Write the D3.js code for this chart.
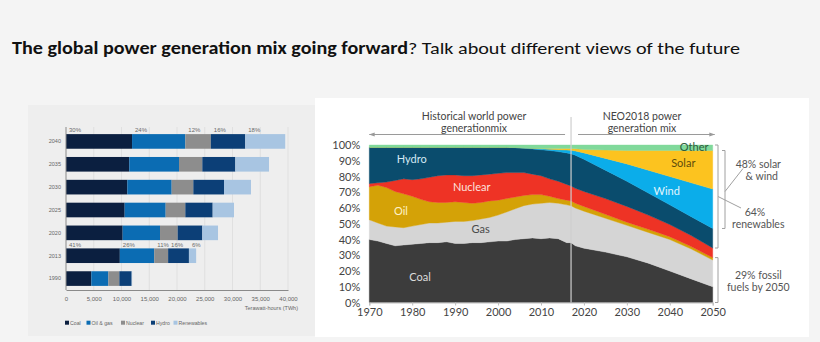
<!DOCTYPE html>
<html><head><meta charset="utf-8">
<script src="https://cdn.jsdelivr.net/npm/d3@7"></script>
<style>
html,body{margin:0;padding:0;background:#f4f4f4;}
svg{display:block;}
</style></head><body>
<svg id="c" width="820" height="342"></svg>
<script>
// ---------- Left chart data (TWh) ----------
const barCategories = ["2040","2035","2030","2025","2020","2013","1990"];
const barSeriesNames = ["Coal","Oil & gas","Nuclear","Hydro","Renewables"];
const barCoal       = [11900, 11400, 11050, 10570, 10210, 9700, 4560];
const barOilGas     = [ 9600,  8960,  7990,  7390,  6730, 6200, 3070];
const barNuclear    = [ 4600,  4200,  3900,  3540,  3180, 2500, 1980];
const barHydro      = [ 6200,  5950,  5530,  4930,  4440, 3750, 2220];
const barRenewables = [ 7200,  6070,  4860,  3840,  2830, 1300,   80];
const barShare2040  = ["30%","24%","12%","16%","18%"];
const barShare2013  = ["41%","26%","11%","16%","6%"];
const barTicks = [0,5000,10000,15000,20000,25000,30000,35000,40000];

// ---------- Right chart data (% share of generation) ----------
const areaYears = [1970,1972,1974,1976,1978,1980,1982,1984,1986,1988,1990,1992,1994,1996,1998,2000,2002,2004,2006,2008,2010,2012,2014,2016,2017,2018,2020,2025,2030,2035,2040,2045,2050];
const areaCoal    = [40,39,37.5,36,36.5,37,37.5,38,38,38.5,37.5,37.5,38,38,38.5,39,39,40,40.5,41,40.5,41,40.5,38,38,36,34.5,32,29,25,20,15,10];
const areaGas     = [12.5,11.5,11,12,11,11.5,12,12.5,12.5,12.5,14,14,14,15,15.5,16.5,18.5,19.5,21,21.5,22.5,22.5,22.5,24,23.5,24,23.5,21.5,20,19.5,20,19,17];
const areaOil     = [21,24,24.5,22.5,21.5,19,16,13.5,13,12.5,12.5,12,11,10.5,10.5,9.5,8.5,7.5,6.5,6,5.5,4,3,3,3,3,3,2.5,2,2,1.8,1.5,1.5];
const areaNuclear = [2,1.5,3.5,7,9.5,10.5,13,15.5,17,17.5,17,17,17.5,17.5,17,17,16.5,15.5,14.5,13,12,11,11,10,9.5,9.5,9.5,10,10,9,7.7,7,6.1];
const areaHydro   = [23,22.5,22,21,20,20.5,20,19,18,17.5,17.5,18,18,17.5,17,16.5,16,15.8,15.5,16,16.5,18,18.8,20,20.5,21,20.5,18,16,14,12.5,12,12.4];
const areaWind    = [0,0,0,0,0,0,0,0,0,0,0,0,0,0,0,0,0,0.1,0.2,0.4,0.6,0.8,1.2,1.8,2.1,2.7,4,7.5,11,14.5,18,21.5,25];
const areaSolar   = [0,0,0,0,0,0,0,0,0,0,0,0,0,0,0,0,0,0,0,0.1,0.2,0.4,0.7,1.0,1.2,1.4,2.2,5.3,8.5,12.5,16.5,20.5,24.5];
const areaOther   = [1.5,1.5,1.5,1.5,1.5,1.5,1.5,1.5,1.5,1.5,1.5,1.5,1.5,1.5,1.5,1.5,1.5,1.6,1.8,2.0,2.2,2.3,2.3,2.2,2.2,2.4,2.8,3.2,3.5,3.5,3.5,3.5,3.5];
const areaSeriesNames = ["Coal","Gas","Oil","Nuclear","Hydro","Wind","Solar","Other"];
const areaYTicks = [0,10,20,30,40,50,60,70,80,90,100];
const areaXTicks = [1970,1980,1990,2000,2010,2020,2030,2040,2050];
const splitYear = 2017;

// ---------- Drawing ----------
const svg = d3.select("#c");
svg.append("rect").attr("width",820).attr("height",342).attr("fill","#f4f4f4");

// Title
const title = svg.append("text").attr("x",12).attr("y",54)
  .style("font-family","Carlito, Calibri, 'Open Sans', sans-serif").style("font-size","17px").attr("fill","#111");
title.append("tspan").attr("font-weight","bold").text("The global power generation mix going forward");
title.append("tspan").attr("font-weight","normal").text("? Talk about different views of the future");
{
  const w = title.node().getComputedTextLength();
  title.attr("textLength", 728).attr("lengthAdjust","spacingAndGlyphs");
}

// Panels
svg.append("rect").attr("x",28).attr("y",105).attr("width",287).attr("height",231).attr("fill","#eeeeee");
svg.append("rect").attr("x",315).attr("y",98).attr("width",494).attr("height",239).attr("fill","#ffffff");

// ===== Left chart =====
const L = svg.append("g").style("font-family","'Liberation Sans', Arial, sans-serif");
const xL = d3.scaleLinear().domain([0,40000]).range([66,288]);
const yL = d3.scaleBand().domain(barCategories).range([130,290]).paddingInner(0.36).paddingOuter(0.18);
const barColors = d3.scaleOrdinal().domain(barSeriesNames).range(["#0b1f40","#0b6cb3","#8d8d8d","#0c3f77","#a8c5e2"]);

L.append("g").selectAll("line").data(barTicks.slice(1)).join("line")
  .attr("x1",d=>xL(d)).attr("x2",d=>xL(d)).attr("y1",127).attr("y2",290)
  .attr("stroke","#dcdcdc").attr("stroke-width",0.8);

const barRows = barCategories.map((c,i)=>({cat:c,"Coal":barCoal[i],"Oil & gas":barOilGas[i],"Nuclear":barNuclear[i],"Hydro":barHydro[i],"Renewables":barRenewables[i]}));
const barStack = d3.stack().keys(barSeriesNames)(barRows);
L.append("g").selectAll("g").data(barStack).join("g").attr("fill",d=>barColors(d.key))
  .selectAll("rect").data(d=>d).join("rect")
  .attr("x",d=>xL(d[0])).attr("width",d=>xL(d[1])-xL(d[0]))
  .attr("y",d=>yL(d.data.cat)).attr("height",yL.bandwidth());

// share labels
function shareLabels(cat, labels){
  const idx = barCategories.indexOf(cat);
  L.append("g").selectAll("text").data(barStack).join("text")
    .attr("x",(d)=>xL(d[idx][0])+3).attr("y",yL(cat)-1.8)
    .style("font-size","6px").attr("fill","#6a6a6a")
    .text((d,i)=>labels[i]);
}
shareLabels("2040", barShare2040);
shareLabels("2013", barShare2013);

// category labels
L.append("g").selectAll("text").data(barCategories).join("text")
  .attr("x",61).attr("y",d=>yL(d)+yL.bandwidth()/2).attr("dy","0.35em")
  .attr("text-anchor","end").style("font-size","5.5px").attr("fill","#666").text(d=>d);

// axes
const axL = L.append("g").attr("transform","translate(0,290)")
  .call(d3.axisBottom(xL).tickValues(barTicks).tickSize(0).tickPadding(7).tickFormat(d3.format(",")));
axL.select(".domain").attr("stroke","#8a8a8a");
axL.selectAll("text").style("font-size","6px").attr("fill","#666").style("font-family","'Liberation Sans', Arial, sans-serif");
L.append("line").attr("x1",66).attr("x2",66).attr("y1",127).attr("y2",290).attr("stroke","#8a8a8a").attr("stroke-width",1);
L.append("text").attr("x",298).attr("y",310).attr("text-anchor","end")
  .style("font-size","5.5px").attr("fill","#666").text("Terawatt-hours (TWh)");

// legend
const legX = [65, 86.5, 121, 151, 173.5];
const leg = L.append("g").selectAll("g").data(barSeriesNames).join("g")
  .attr("transform",(d,i)=>`translate(${legX[i]},323)`);
leg.append("rect").attr("x",0).attr("y",-2.3).attr("width",4).attr("height",4).attr("fill",d=>barColors(d));
leg.append("text").attr("x",5).attr("y",0).attr("dy","0.35em").style("font-size","5.2px").attr("fill","#666").text(d=>d);

// ===== Right chart =====
const R = svg.append("g").style("font-family","Lato, 'Open Sans', sans-serif");
const xR = d3.scaleLinear().domain([1970,2050]).range([369.3,712.7]);
const yR = d3.scaleLinear().domain([0,100]).range([302.5,145]);
const areaColors = d3.scaleOrdinal().domain(areaSeriesNames)
  .range(["#3c3c3c","#d5d5d5","#d4a207","#ee3325","#0a4c6d","#0badea","#fcc31f","#80d99b"]);

const areaRows = areaYears.map((y,i)=>({year:y,Coal:areaCoal[i],Gas:areaGas[i],Oil:areaOil[i],Nuclear:areaNuclear[i],Hydro:areaHydro[i],Wind:areaWind[i],Solar:areaSolar[i],Other:areaOther[i]}));
const areaStack = d3.stack().keys(areaSeriesNames)(areaRows);
const areaGen = d3.area().x(d=>xR(d.data.year)).y0(d=>yR(d[0])).y1(d=>yR(d[1]));
R.append("g").selectAll("path").data(areaStack).join("path")
  .attr("d",areaGen).attr("fill",d=>areaColors(d.key)).attr("stroke",d=>areaColors(d.key)).attr("stroke-width",0.4);

// y axis
const ayR = R.append("g").attr("transform","translate(369.3,0)")
  .call(d3.axisLeft(yR).tickValues(areaYTicks).tickSize(0).tickPadding(9).tickFormat(d=>d+"%"));
ayR.select(".domain").remove();
ayR.selectAll("text").style("font-size","11px").attr("fill","#444").style("font-family","Lato, 'Open Sans', sans-serif");

// x axis
const axR = R.append("g").attr("transform","translate(0,302.5)")
  .call(d3.axisBottom(xR).tickValues(areaXTicks).tickSize(3).tickPadding(3).tickFormat(d3.format("d")));
axR.select(".domain").attr("stroke","#bdbdbd");
axR.selectAll("line").attr("stroke","#bdbdbd");
axR.selectAll("text").style("font-size","11px").attr("fill","#444").style("font-family","Lato, 'Open Sans', sans-serif");

// split line
R.append("line").attr("x1",xR(splitYear)).attr("x2",xR(splitYear)).attr("y1",117).attr("y2",302.5)
  .attr("stroke","#cfcfcf").attr("stroke-width",1.2);

// header texts and arrows
const defs = svg.append("defs");
defs.append("marker").attr("id","ah").attr("viewBox","0 0 10 10").attr("refX",9).attr("refY",5)
  .attr("markerWidth",6).attr("markerHeight",6).attr("orient","auto-start-reverse")
  .append("path").attr("d","M0,1.5 L10,5 L0,8.5 Z").attr("fill","#9a9a9a");
R.append("line").attr("x1",xR(splitYear)-6).attr("x2",xR(1970)).attr("y1",134.5).attr("y2",134.5)
  .attr("stroke","#9a9a9a").attr("stroke-width",1).attr("marker-end","url(#ah)");
R.append("line").attr("x1",xR(splitYear)+7).attr("x2",xR(2050)+2).attr("y1",134.5).attr("y2",134.5)
  .attr("stroke","#9a9a9a").attr("stroke-width",1).attr("marker-end","url(#ah)");

const hdr = [
  {x:474, lines:["Historical world power","generationmix"]},
  {x:642, lines:["NEO2018 power","generation mix"]}
];
hdr.forEach(h=>{
  h.lines.forEach((t,i)=>{
    R.append("text").attr("x",h.x).attr("y",119.5+i*12.3).attr("text-anchor","middle")
      .style("font-size","10.5px").attr("fill","#444").text(t);
  });
});

// in-area labels
const areaLabels = [
  {t:"Hydro",x:411.7,y:159.5,c:"#d3e9f4",a:"middle"},
  {t:"Nuclear",x:471.7,y:187.5,c:"#fde2df",a:"middle"},
  {t:"Oil",x:401,y:211,c:"#fff2c8",a:"middle"},
  {t:"Gas",x:480.7,y:229.5,c:"#4a4a4a",a:"middle"},
  {t:"Coal",x:420,y:277.5,c:"#dcdcdc",a:"middle"},
  {t:"Wind",x:666.7,y:191,c:"#e2f5fd",a:"middle"},
  {t:"Solar",x:683.3,y:163.5,c:"#5e4c0c",a:"middle"},
  {t:"Other",x:708.5,y:147,c:"#2f5c3b",a:"end"}
];
R.append("g").selectAll("text").data(areaLabels).join("text")
  .attr("x",d=>d.x).attr("y",d=>d.y).attr("dy","0.35em").attr("text-anchor",d=>d.a)
  .style("font-size","11px").attr("fill",d=>d.c).text(d=>d.t);

// brackets
const bc = "#a0a0a0";
function bracket(x, v0, v1){
  const y0 = yR(v0), y1 = yR(v1);
  R.append("path").attr("d",`M${x-3},${y0} L${x},${y0} L${x},${y1} L${x-3},${y1}`)
    .attr("fill","none").attr("stroke",bc).attr("stroke-width",1);
}
bracket(718, 100, 34.6);
bracket(725, 96.5, 47);
bracket(718, 28.5, 0);
R.append("line").attr("x1",725).attr("y1",191.5).attr("x2",743).attr("y2",168.5).attr("stroke",bc).attr("stroke-width",1);
R.append("line").attr("x1",718).attr("y1",196.5).attr("x2",741).attr("y2",208).attr("stroke",bc).attr("stroke-width",1);

const notes = [
  {t:"48% solar",y:164},{t:"& wind",y:176},
  {t:"64%",y:212},{t:"renewables",y:224.3},
  {t:"29% fossil",y:275},{t:"fuels by 2050",y:287.5}
];
const noteX = [758.3,761.7,755,758.3,758.3,758.3];
R.append("g").selectAll("text").data(notes).join("text")
  .attr("x",(d,i)=>noteX[i]).attr("y",d=>d.y).attr("dy","0.35em").attr("text-anchor","middle")
  .style("font-size","10.5px").attr("fill","#555").text(d=>d.t);
</script>
</body></html>
